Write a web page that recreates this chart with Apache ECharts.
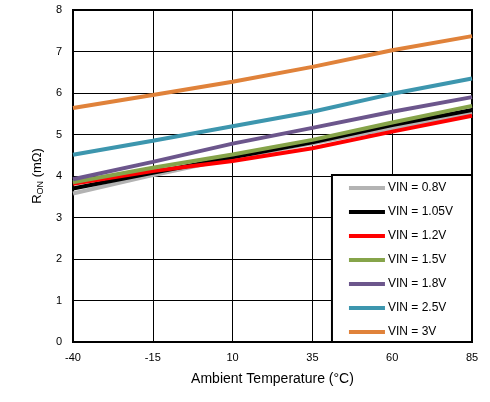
<!DOCTYPE html>
<html>
<head>
<meta charset="utf-8">
<script src="https://cdn.jsdelivr.net/npm/echarts@6/dist/echarts.min.js"></script>
<style>
  html, body { margin: 0; padding: 0; background: #fff; }
  #chart { width: 490px; height: 402px; }
</style>
</head>
<body>
<div id="chart"></div>
<script>
// ambient temperature, degC
var temps = [-40, -15, 10, 35, 60, 85];

// RON (mOhm) per input voltage
var seriesNames = ['VIN = 0.8V', 'VIN = 1.05V', 'VIN = 1.2V', 'VIN = 1.5V', 'VIN = 1.8V', 'VIN = 2.5V', 'VIN = 3V'];
var vin08  = [3.58, 4.02, 4.43, 4.79, 5.15, 5.53];
var vin105 = [3.70, 4.08, 4.45, 4.81, 5.23, 5.59];
var vin12  = [3.81, 4.12, 4.36, 4.67, 5.07, 5.45];
var vin15  = [3.85, 4.20, 4.52, 4.87, 5.29, 5.69];
var vin18  = [3.92, 4.34, 4.78, 5.16, 5.55, 5.90];
var vin25  = [4.51, 4.85, 5.20, 5.55, 5.98, 6.35];
var vin3   = [5.64, 5.95, 6.27, 6.63, 7.03, 7.37];

var colors = ['#b3b3b3', '#000000', '#ff0000', '#86a44a', '#6c568c', '#3d96ae', '#e0823a'];
var allData = [vin08, vin105, vin12, vin15, vin18, vin25, vin3];

var font = 'Liberation Sans, Arial, sans-serif';

var chart = echarts.init(document.getElementById('chart'));

var series = [];
for (var i = 0; i < allData.length; i++) {
    var pts = [];
    for (var j = 0; j < temps.length; j++) {
        pts.push([temps[j], allData[i][j]]);
    }
    series.push({
        name: seriesNames[i],
        type: 'line',
        data: pts,
        showSymbol: false,
        symbol: 'none',
        lineStyle: {width: 4, color: colors[i]},
        itemStyle: {color: colors[i]},
        animation: false
    });
}

var option = {
    animation: false,
    grid: {
        left: 73,
        right: 18,
        top: 10,
        bottom: 60,
        show: true,
        borderColor: '#000',
        borderWidth: 2,
        backgroundColor: '#fff'
    },
    legend: {
        orient: 'vertical',
        right: 18,
        bottom: 60,
        data: seriesNames.map(function (n) { return {name: n, icon: 'rect'}; }),
        itemWidth: 36,
        itemHeight: 4,
        itemGap: 12,
        padding: [7, 19, 4, 17],
        backgroundColor: '#fff',
        borderColor: '#000',
        borderWidth: 2,
        borderRadius: 0,
        selectedMode: false,
        textStyle: {fontFamily: font, fontSize: 12, color: '#000', padding: [0, 0, 0, -2]}
    },
    xAxis: {
        type: 'value',
        min: -40,
        max: 85,
        interval: 25,
        name: 'Ambient Temperature (°C)',
        nameLocation: 'middle',
        nameGap: 30,
        nameTextStyle: {fontFamily: font, fontSize: 14, color: '#000'},
        axisLine: {show: true, onZero: false, lineStyle: {color: '#000', width: 2}},
        axisTick: {show: false},
        axisLabel: {fontFamily: font, fontSize: 11, color: '#000', margin: 10},
        splitLine: {show: true, lineStyle: {color: '#000', width: 1}}
    },
    yAxis: {
        type: 'value',
        min: 0,
        max: 8,
        interval: 1,
        name: '{a|R}{b|ON}{a| (mΩ)}',
        nameLocation: 'middle',
        nameGap: 25,
        nameRotate: 90,
        nameTextStyle: {
            rich: {
                a: {fontFamily: font, fontSize: 13, color: '#000'},
                b: {fontFamily: font, fontSize: 9, color: '#000', verticalAlign: 'bottom', padding: [6, 0, 0, 0]}
            }
        },
        axisLine: {show: true, onZero: false, lineStyle: {color: '#000', width: 2}},
        axisTick: {show: false},
        axisLabel: {fontFamily: font, fontSize: 11, color: '#000', margin: 11},
        splitLine: {show: true, lineStyle: {color: '#000', width: 1}}
    },
    series: series
};
chart.setOption(option);
</script>
</body>
</html>
